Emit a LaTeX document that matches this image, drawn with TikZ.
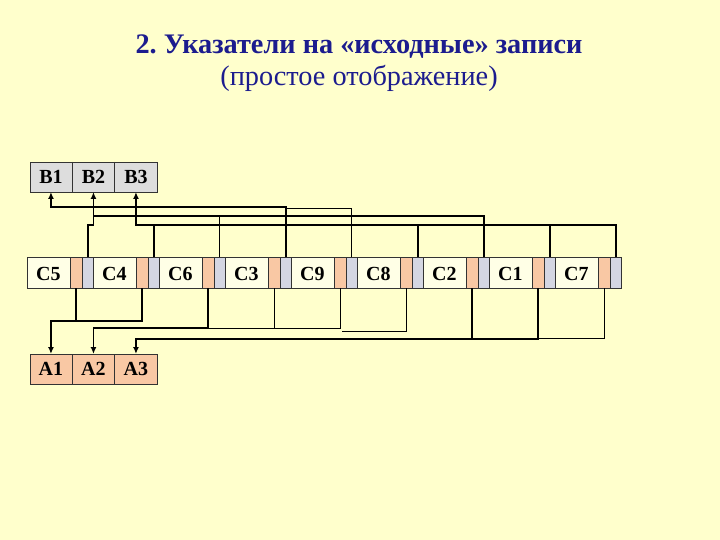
\documentclass[tikz,border=0pt]{standalone}
\usepackage{fontspec}
\setmainfont{Liberation Serif}
\usetikzlibrary{shapes,positioning,calc,arrows.meta}
\definecolor{bgyellow}{HTML}{FFFFCC}
\definecolor{cream}{HTML}{FFFFE6}
\definecolor{peach}{HTML}{F9C8A4}
\definecolor{slate}{HTML}{D4D6E2}
\definecolor{lgray}{HTML}{DDDDDD}
\definecolor{navy}{HTML}{1C1C8E}

\begin{document}
\begin{tikzpicture}[x=1pt, y=1pt,
  record/.style={rectangle split, rectangle split parts=3, rectangle split horizontal, rectangle split part align=base, draw=black!80, line width=0.6pt, inner xsep=0pt, inner ysep=7pt, outer sep=0pt, text height=16pt, text depth=1pt, font=\fontsize{20}{24}\selectfont\bfseries, rectangle split part fill={cream,peach,slate}},
  keys/.style={record, inner ysep=6.5pt, text height=15pt, text depth=2pt},
  link/.style={line width=1.8pt},
  thinlink/.style={line width=0.9pt},
  ptr/.style={link, -{Latex[length=7pt, width=6pt]}}]

\fill[bgyellow] (0,0) rectangle (720,-540);

% TITLE

\node[anchor=base, text=navy, font=\fontsize{28.3}{34}\selectfont\bfseries] (title) at (359,-54) {2.\ Указатели на «исходные» записи};
\node[anchor=base, text=navy, font=\fontsize{28.3}{34}\selectfont] (subtitle) at ($(title.base)+(0,-32)$) {(простое отображение)};

% TABLES

\node [keys, rectangle split part fill={lgray}, anchor=north west] (btab) at (30,-162)
{\makebox[41.9pt]{B1}%
\nodepart{two}   \makebox[41.9pt]{B2}
\nodepart{three} \makebox[41.9pt]{B3}};

\node [keys, rectangle split part fill={peach}, below=162pt of btab.south west, anchor=north west] (atab)
{\makebox[41.9pt]{A1}%
\nodepart{two}   \makebox[41.9pt]{A2}
\nodepart{three} \makebox[41.9pt]{A3}};

% RECORDS

\node [record, below=65pt of btab.south west, anchor=north west, xshift=-3pt] (c5)
{\makebox[42.6pt]{C5}\nodepart{two}\makebox[11.6pt]{}\nodepart{three}\makebox[10.6pt]{}};
\node [record, right=0pt of c5] (c4)
{\makebox[42.6pt]{C4}\nodepart{two}\makebox[11.6pt]{}\nodepart{three}\makebox[10.6pt]{}};
\node [record, right=0pt of c4] (c6)
{\makebox[42.6pt]{C6}\nodepart{two}\makebox[11.6pt]{}\nodepart{three}\makebox[10.6pt]{}};
\node [record, right=0pt of c6] (c3)
{\makebox[42.6pt]{C3}\nodepart{two}\makebox[11.6pt]{}\nodepart{three}\makebox[10.6pt]{}};
\node [record, right=0pt of c3] (c9)
{\makebox[42.6pt]{C9}\nodepart{two}\makebox[11.6pt]{}\nodepart{three}\makebox[10.6pt]{}};
\node [record, right=0pt of c9] (c8)
{\makebox[42.6pt]{C8}\nodepart{two}\makebox[11.6pt]{}\nodepart{three}\makebox[10.6pt]{}};
\node [record, right=0pt of c8] (c2)
{\makebox[42.6pt]{C2}\nodepart{two}\makebox[11.6pt]{}\nodepart{three}\makebox[10.6pt]{}};
\node [record, right=0pt of c2] (c1)
{\makebox[42.6pt]{C1}\nodepart{two}\makebox[11.6pt]{}\nodepart{three}\makebox[10.6pt]{}};
\node [record, right=0pt of c1] (c7)
{\makebox[42.6pt]{C7}\nodepart{two}\makebox[11.6pt]{}\nodepart{three}\makebox[10.6pt]{}};

% POINTERS TO B

\draw[ptr] (c3.three north) -- ++(0,50) -| (btab.one south);
\draw[thinlink] (c9.three north) |- ($(c3.three north)+(0,49)$);

\draw[ptr] (c2.three north) -- ++(0,41) -| (btab.two south);
\draw[thinlink] (c6.three north) -- ++(0,41);
\draw[link] (c5.three north) -- ++(0,32) -| ($(btab.two south)+(0,-24)$);

\draw[ptr] (c7.three north) -- ++(0,32) -| (btab.three south);
\draw[link] (c4.three north) -- ++(0,32);
\draw[link] (c8.three north) -- ++(0,32);
\draw[link] (c1.three north) -- ++(0,32);

% POINTERS TO A

\draw[ptr] (c4.two south) -- ++(0,-33) -| (atab.one north);
\draw[link] (c5.two south) -- ++(0,-33);

\draw[ptr] (c6.two south) -- ++(0,-40) -| (atab.two north);
\draw[thinlink] (c9.two south) |- ($(c6.two south)+(0,-40)$);
\draw[thinlink] (c3.two south) -- ++(0,-40);
\draw[thinlink] (c8.two south) |- ($(c9.two south)+(1.5,-43)$);

\draw[ptr] (c1.two south) -- ++(0,-51) -| (atab.three north);
\draw[link] (c2.two south) -- ++(0,-51);
\draw[thinlink] (c7.two south) |- ($(c1.two south)+(0,-50)$);

\end{tikzpicture}
\end{document}
